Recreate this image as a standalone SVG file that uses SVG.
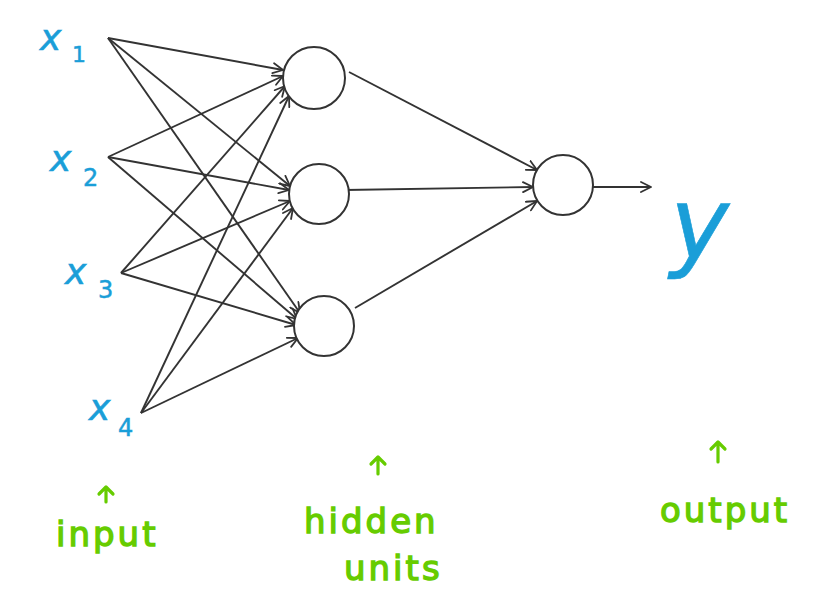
<svg xmlns="http://www.w3.org/2000/svg" width="832" height="607" viewBox="0 0 832 607">
  <defs>
    <marker id="arr" viewBox="0 0 12 12" refX="11" refY="6" markerWidth="12" markerHeight="12" markerUnits="userSpaceOnUse" orient="auto">
      <path d="M1,1 L11,6 L1,11" fill="none" stroke="#333" stroke-width="1.8" stroke-linecap="round" stroke-linejoin="round"/>
    </marker>
  </defs>
  <style>
    .edge { stroke: #333; stroke-width: 1.9; fill: none; marker-end: url(#arr); }
    .unit { fill: #fff; stroke: #333; stroke-width: 2; }
    .var { fill: #1a9ed8; stroke: #1a9ed8; stroke-width: 0.6; font-family: "DejaVu Sans", sans-serif; font-style: italic; }
    .sub { fill: #1a9ed8; stroke: #1a9ed8; stroke-width: 0.5; font-family: "DejaVu Sans", sans-serif; }
    .note { fill: #66cc00; stroke: #66cc00; stroke-width: 1.4; font-family: "DejaVu Sans", sans-serif; font-size: 34px; letter-spacing: 3px; }
    .up { fill: none; stroke: #66cc00; stroke-width: 3.2; stroke-linecap: round; stroke-linejoin: round; }
  </style>
  <rect width="832" height="607" fill="#fff"/>

  <!-- connections -->
  <g id="connectors">
    <line class="edge" x1="108" y1="38" x2="283" y2="70"/>
    <line class="edge" x1="108" y1="38" x2="290" y2="186"/>
    <line class="edge" x1="108" y1="38" x2="300" y2="313"/>
    <line class="edge" x1="108" y1="157" x2="283" y2="76"/>
    <line class="edge" x1="108" y1="157" x2="289" y2="190"/>
    <line class="edge" x1="108" y1="157" x2="297" y2="319"/>
    <line class="edge" x1="121" y1="273" x2="285" y2="86"/>
    <line class="edge" x1="121" y1="273" x2="290" y2="201"/>
    <line class="edge" x1="121" y1="273" x2="296" y2="325"/>
    <line class="edge" x1="141" y1="413" x2="289" y2="96"/>
    <line class="edge" x1="141" y1="413" x2="293" y2="208"/>
    <line class="edge" x1="141" y1="413" x2="298" y2="338"/>
    <line class="edge" x1="349" y1="72" x2="537" y2="170"/>
    <line class="edge" x1="345" y1="190" x2="533" y2="187"/>
    <line class="edge" x1="355" y1="308" x2="537" y2="201"/>
    <line class="edge" x1="592" y1="187" x2="651" y2="187"/>
  </g>

  <!-- inputs -->
  <g id="x1"><text class="var" x="40" y="50" font-size="36">x</text><text class="sub" x="72" y="62" font-size="22">1</text></g>
  <g id="x2"><text class="var" x="50" y="171" font-size="36">x</text><text class="sub" x="83" y="186" font-size="24">2</text></g>
  <g id="x3"><text class="var" x="65" y="284" font-size="36">x</text><text class="sub" x="98" y="298" font-size="24">3</text></g>
  <g id="x4"><text class="var" x="89" y="420" font-size="36">x</text><text class="sub" x="118" y="436" font-size="24">4</text></g>

  <!-- hidden units -->
  <g id="h1"><circle class="unit" cx="314" cy="78" r="31"/></g>
  <g id="h2"><circle class="unit" cx="319" cy="194" r="30"/></g>
  <g id="h3"><circle class="unit" cx="324" cy="326" r="30"/></g>

  <!-- output unit -->
  <g id="out"><circle class="unit" cx="563" cy="185" r="30"/></g>
  <g id="y"><text class="var" x="670" y="258" font-size="100">y</text></g>

  <!-- annotations -->
  <g id="label-input">
    <path class="up" d="M106,502 L106,487 M99,494 L106,487 L113,494"/>
    <text class="note" x="56" y="546">input</text>
  </g>
  <g id="label-hidden">
    <path class="up" d="M378,474 L378,457 M371,464 L378,457 L385,464"/>
    <text class="note" x="304" y="533">hidden</text>
    <text class="note" x="344" y="580">units</text>
  </g>
  <g id="label-output">
    <path class="up" d="M718,462 L718,442 M711,449 L718,442 L725,449"/>
    <text class="note" x="660" y="522">output</text>
  </g>
</svg>
